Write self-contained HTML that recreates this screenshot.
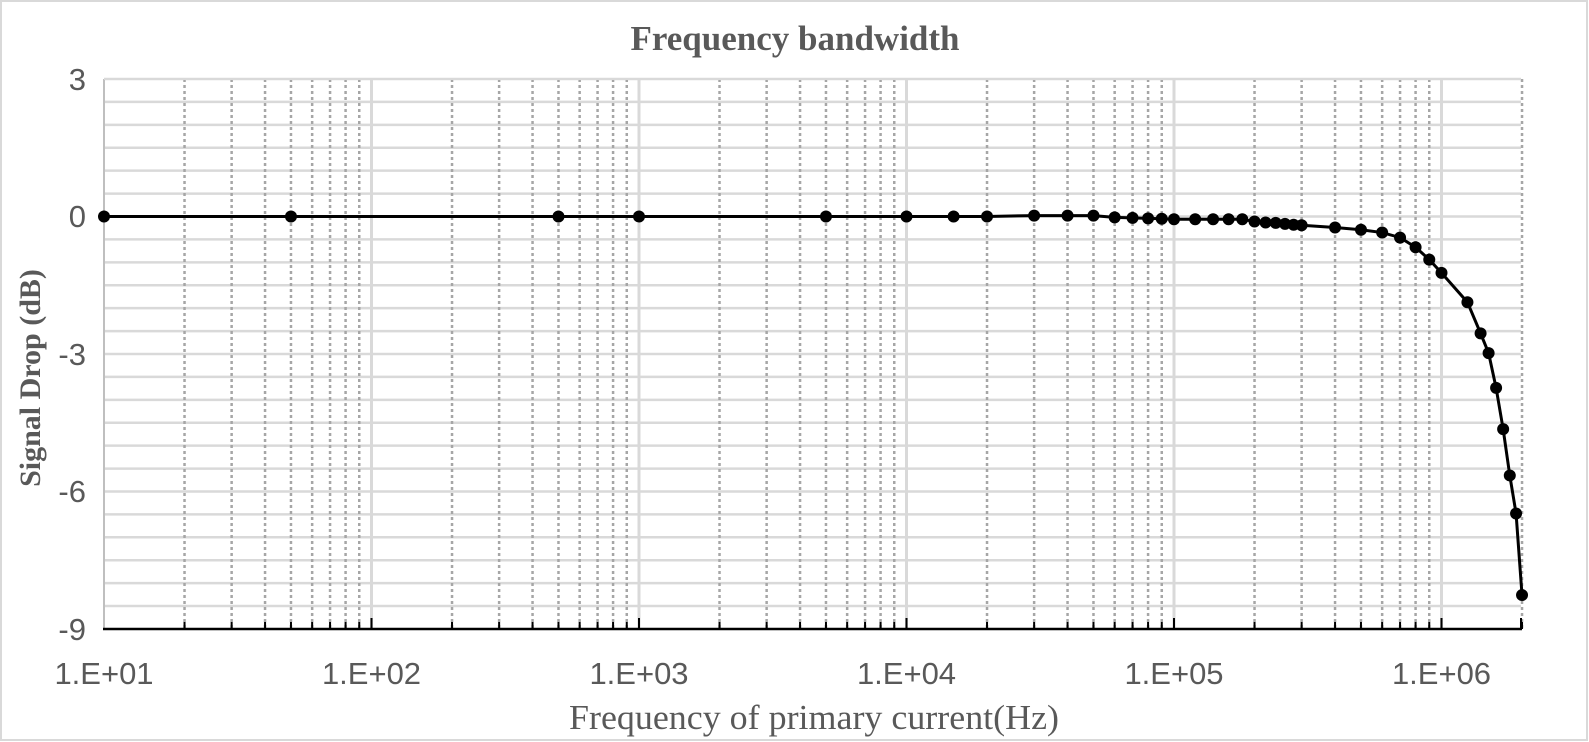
<!DOCTYPE html>
<html><head><meta charset="utf-8"><style>
html,body{margin:0;padding:0;background:#fff}
svg{display:block}
</style></head><body>
<svg id="s" width="1589" height="742" xmlns="http://www.w3.org/2000/svg">
<rect x="1" y="1" width="1586" height="739" fill="#fff" stroke="#d9d9d9" stroke-width="2"/>
<g id="grid"></g>
<text x="795" y="50" text-anchor="middle" font-family="Liberation Serif, serif" font-weight="bold" font-size="35" fill="#595959">Frequency bandwidth</text>
<g font-family="Liberation Sans, sans-serif" font-size="31" fill="#595959" text-anchor="end">
<text x="86" y="90">3</text>
<text x="86" y="227">0</text>
<text x="86" y="365">-3</text>
<text x="86" y="502">-6</text>
<text x="86" y="640">-9</text>
</g>
<g font-family="Liberation Sans, sans-serif" font-size="31" fill="#595959" text-anchor="middle">
<text x="104" y="684">1.E+01</text>
<text x="371.5" y="684">1.E+02</text>
<text x="639" y="684">1.E+03</text>
<text x="906.5" y="684">1.E+04</text>
<text x="1174" y="684">1.E+05</text>
<text x="1441.5" y="684">1.E+06</text>
</g>
<text x="814" y="729" text-anchor="middle" font-family="Liberation Serif, serif" font-size="35" fill="#595959" textLength="490" lengthAdjust="spacingAndGlyphs">Frequency of primary current(Hz)</text>
<text transform="translate(40,378) rotate(-90)" text-anchor="middle" font-family="Liberation Serif, serif" font-weight="bold" font-size="30" fill="#595959">Signal Drop (dB)</text>
<g id="data"></g>
</svg>
<script>
const NS="http://www.w3.org/2000/svg";
const X0=104,DEC=267.5,Y0=216.5,YU=45.83,TOP=79,BOT=629,RIGHT=1521;
const fx=f=>X0+(Math.log10(f)-1)*DEC, fy=d=>Y0-d*YU;
function el(p,t,a){const e=document.createElementNS(NS,t);for(const k in a)e.setAttribute(k,a[k]);p.appendChild(e);return e;}
const g=document.getElementById('grid');
for(let v=3;v>=-8.5;v-=0.5){el(g,'line',{x1:X0,x2:RIGHT,y1:fy(v),y2:fy(v),stroke:'#d9d9d9','stroke-width':2.5});}
for(let e=1;e<=6;e++){for(let m=1;m<=9;m++){const f=m*Math.pow(10,e);if(f>2e6+1)break;const x=fx(f);
 if(m==1){if(e>1)el(g,'line',{x1:x,x2:x,y1:TOP,y2:BOT,stroke:'#d9d9d9','stroke-width':3});}
 else el(g,'line',{x1:x,x2:x,y1:TOP,y2:BOT,stroke:'#a6a6a6','stroke-width':2.5,'stroke-dasharray':'3,3'});
 el(g,'line',{x1:x,x2:x,y1:BOT,y2:BOT-(m==1?11:7),stroke:'#000','stroke-width':2});}}
el(g,'line',{x1:RIGHT,x2:RIGHT,y1:BOT,y2:BOT-11,stroke:'#000','stroke-width':2});
el(g,'line',{x1:X0,x2:X0,y1:TOP,y2:BOT,stroke:'#bfbfbf','stroke-width':2});
el(g,'line',{x1:X0,x2:RIGHT,y1:TOP,y2:TOP,stroke:'#d9d9d9','stroke-width':2});
el(g,'line',{x1:X0-1,x2:RIGHT+1,y1:BOT,y2:BOT,stroke:'#000','stroke-width':2.5});
const D=[[10,0],[50,0],[500,0],[1000,0],[5000,0],[1e4,0],[1.5e4,0],[2e4,0],[3e4,0.02],[4e4,0.02],[5e4,0.02],[6e4,-0.02],[7e4,-0.03],[8e4,-0.04],[9e4,-0.05],[1e5,-0.06],[1.2e5,-0.06],[1.4e5,-0.06],[1.6e5,-0.06],[1.8e5,-0.06],[2e5,-0.11],[2.2e5,-0.13],[2.4e5,-0.14],[2.6e5,-0.16],[2.8e5,-0.18],[3e5,-0.19],[4e5,-0.24],[5e5,-0.29],[6e5,-0.35],[7e5,-0.46],[8e5,-0.67],[9e5,-0.94],[1e6,-1.23],[1.25e6,-1.87],[1.4e6,-2.55],[1.5e6,-2.98],[1.6e6,-3.74],[1.7e6,-4.64],[1.8e6,-5.65],[1.9e6,-6.48],[2e6,-8.26]];
const dg=document.getElementById('data');
el(dg,'polyline',{points:D.map(p=>fx(p[0])+','+fy(p[1])).join(' '),fill:'none',stroke:'#000','stroke-width':3});
D.forEach(p=>el(dg,'circle',{cx:fx(p[0]),cy:fy(p[1]),r:6,fill:'#000'}));
</script>
</body></html>
